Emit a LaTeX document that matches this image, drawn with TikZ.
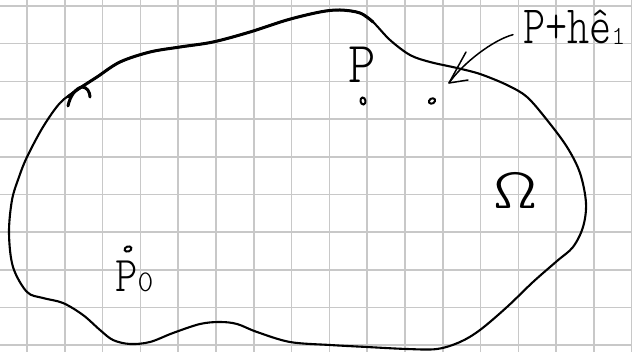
\documentclass[tikz,border=0pt]{standalone}
\usepackage{graphicx}
\usetikzlibrary{shapes.geometric}
\definecolor{gridc}{RGB}{200,200,200}
\newcommand{\handfont}[1]{\fontsize{#1}{#1}\fontfamily{lmtt}\fontseries{l}\selectfont}
\begin{document}
\begin{tikzpicture}[x=1pt,y=-1pt,
  outline/.style={line width=2.1pt, line join=round, line cap=round},
  heavy/.style={line width=3pt, line join=round, line cap=round},
  conn/.style={line width=1.5pt, line cap=round, line join=round},
  lbl/.style={inner sep=0pt, text=black},
  dotmark/.style={ellipse, draw, line width=2pt, inner sep=0pt, minimum width=5pt, minimum height=7pt}]
\useasboundingbox (0,0) rectangle (632,352);
\fill[white] (0,0) rectangle (632,352);
\begin{scope}
  \clip (0,0) rectangle (632,352);
  \foreach \k in {0,...,16} \draw[gridc, line width=1.6pt] ({27+37.8*\k},0) -- ({27+37.8*\k},352);
  \foreach \k in {0,...,9} \draw[gridc, line width=1.6pt] (0,{6+37.7*\k}) -- (632,{6+37.7*\k});
\end{scope}
% region boundary
\draw[outline] plot[smooth cycle, tension=0.55] coordinates {(60,103) (77,90) (97,77) (120,62) (150,52) (180,47) (213,42) (250,32) (287,20) (320,12) (340,10) (360,13) (373,22) (390,40) (410,55) (430,62) (457,68) (480,74) (507,85) (527,97) (547,120) (567,147) (580,173) (586,203) (583,227) (573,247) (557,261) (533,282) (507,307) (480,330) (460,342) (437,349) (407,349) (367,347) (330,345) (290,342) (257,332) (237,324) (220,322) (200,324) (173,333) (150,342) (130,344) (113,340) (100,330) (83,315) (63,303) (43,298) (27,292) (13,267) (9,233) (12,200) (19,177) (27,157) (43,127)};
\draw[heavy] plot[smooth, tension=0.55] coordinates {(68,97) (77,90) (97,77) (120,62) (150,52) (180,47) (213,42) (250,32) (287,20) (320,12) (340,10) (360,13) (373,22)};
% hook
\draw[heavy] (68,106) .. controls (70,96) and (76,88) .. (82,87) .. controls (87,87) and (90,92) .. (90,97);
% points
\node[dotmark, rotate=10] (pd) at (363,101) {};
\node[dotmark, minimum width=6.5pt, minimum height=5pt, rotate=30] (qd) at (432,101) {};
\node[dotmark, minimum width=7pt, minimum height=5pt, rotate=20] (p0d) at (128,249) {};
% labels
\node[lbl, anchor=base] (pl) at (362,83) {\handfont{58}\scalebox{0.9}[1]{P}};
\node[lbl, anchor=base west] (p0l) at (115,292) {\handfont{50}\scalebox{0.85}[1]{P}{\fontsize{30}{30}\selectfont 0}};
\node[lbl] (om) at (516,190) {\handfont{58}\scalebox{1.45}[1]{Ω}};
\node[lbl, anchor=base west] (lab) at (523,44) {\handfont{54}\scalebox{0.78}[1]{P+h\^{e}}{\fontsize{26}{26}\selectfont\raisebox{-1pt}{1}}};
% arrow
\coordinate (tip) at (449,83);
\draw[conn] ([xshift=-10pt,yshift=-7pt]lab.west) .. controls (493,40) and (463,63) .. (tip);
\draw[conn] (tip) -- ++(17,-31) (tip) -- ++(19,-3);
\end{tikzpicture}
\end{document}
